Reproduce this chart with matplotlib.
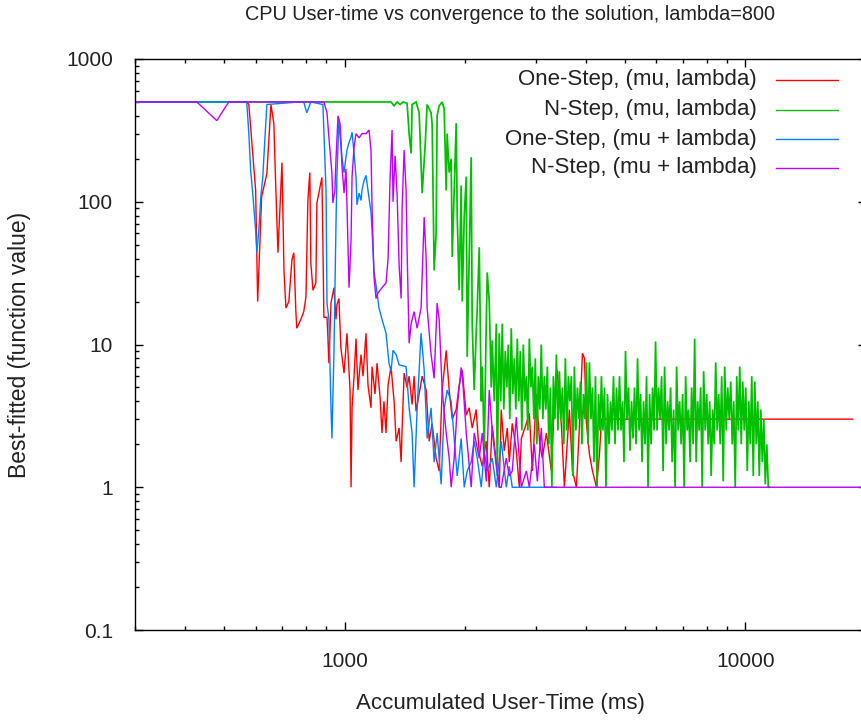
import matplotlib
matplotlib.use('Agg')
import matplotlib.pyplot as plt
from matplotlib.lines import Line2D
from matplotlib.ticker import FixedLocator, FixedFormatter, LogLocator, NullFormatter

plt.rcParams['font.family'] = ['Liberation Sans', 'DejaVu Sans']

title = "CPU User-time vs convergence to the solution, lambda=800"
xlabel = "Accumulated User-Time (ms)"
ylabel = "Best-fitted (function value)"
series_labels = ["One-Step, (mu, lambda)", "N-Step, (mu, lambda)",
                 "One-Step, (mu + lambda)", "N-Step, (mu + lambda)"]
series_colors = ["#ff0000", "#00c000", "#0080ff", "#c000ff"]
series_widths = [1.0, 1.25, 1.0, 1.0]

x_ticks = [1000, 10000]
x_tick_labels = ["1000", "10000"]
y_ticks = [0.1, 1, 10, 100, 1000]
y_tick_labels = ["0.1", "1", "10", "100", "1000"]

red_x = [300, 570, 577, 600, 607, 621, 640, 655, 666, 674,
         682, 693, 698, 706, 714, 726, 739, 747, 756, 760,
         778, 791, 801, 810, 819, 824, 834, 848, 853, 868,
         878, 883, 888, 904, 909, 914, 925, 941, 952, 957,
         968, 979, 997, 1014, 1032, 1038, 1044, 1056, 1068, 1080,
         1099, 1112, 1131, 1144, 1164, 1171, 1191, 1205, 1226, 1240,
         1254, 1269, 1284, 1306, 1329, 1345, 1368, 1384, 1392, 1408,
         1432, 1449, 1474, 1491, 1508, 1535, 1562, 1598, 1626, 1654,
         1692, 1722, 1752, 1793, 1824, 1856, 1899, 1932, 1966, 2012,
         2046, 2082, 2130, 2168, 2206, 2257, 2296, 2336, 2391, 2432,
         2460, 2503, 2547, 2576, 2621, 2682, 2729, 2761, 2842, 2891,
         2942, 3010, 3069, 3115, 3188, 3281, 3338, 3396, 3475, 3536,
         3639, 3703, 3789, 3855, 3922, 3968, 4013, 4083, 4155, 4252,
         4325, 4375, 18540]
red_y = [500, 500, 480, 120, 20, 108, 158, 480, 355, 120,
         44, 120, 188, 33, 18, 20, 39, 44, 17, 13,
         15, 17, 21.5, 102, 160, 37, 24, 27, 98, 126,
         148, 51, 15.5, 15.5, 11, 7.4, 19.5, 25, 15, 19,
         21, 9.5, 6.3, 12, 4.8, 1.0, 3.6, 6, 11, 4.8,
         8.5, 6, 12, 5.2, 3.6, 7, 4.5, 7.4, 4.3, 2.4,
         4, 2.4, 5.2, 7, 4, 2.1, 2.6, 1.5, 2.6, 6.3,
         5, 6, 3.8, 6, 3.4, 4.5, 6, 4.8, 2.1, 2.8,
         1.6, 1.3, 4.8, 9.1, 4.8, 3, 3.5, 5.2, 6.6, 3.2,
         3.6, 2.6, 3.5, 1.7, 1.4, 2.1, 1.0, 2.7, 1.5, 1.0,
         3.5, 1.8, 2.6, 1.5, 2.8, 1.8, 1.0, 2.2, 2.8, 3.3,
         1.3, 4.5, 2.0, 1.6, 2.4, 1.3, 4, 6.6, 2.7, 1.0,
         3.5, 1.3, 1.0, 2.7, 8.7, 8, 2.8, 1.7, 1.3, 1.0,
         1.7, 3.0, 3.0]

green_x = [300, 1306, 1329, 1352, 1376, 1400, 1432, 1449, 1466, 1474,
           1508, 1535, 1562, 1589, 1607, 1644, 1654, 1673, 1692, 1702,
           1722, 1752, 1772, 1793, 1803, 1824, 1845, 1856, 1877, 1899,
           1910, 1932, 1954, 1966, 1989, 2012, 2023, 2046, 2070, 2082,
           2106, 2130, 2143, 2168, 2193, 2206, 2231, 2257, 2270, 2296,
           2323, 2336, 2363, 2391, 2404,
           2432, 2453, 2475, 2496, 2518, 2540, 2562, 2584, 2606, 2629,
           2652, 2675, 2698, 2721, 2745, 2769, 2793, 2817, 2842, 2866,
           2891, 2916, 2942, 2967, 2992, 3018, 3044, 3070, 3097, 3124,
           3151, 3178, 3206, 3234, 3262, 3290, 3319, 3348, 3377, 3406,
           3436, 3465, 3495, 3525, 3556, 3587, 3618, 3649, 3681, 3713,
           3745, 3778, 3811, 3844, 3877, 3911, 3945, 3979, 4013, 4048,
           4083, 4119, 4155, 4191, 4227, 4264, 4301, 4338, 4375, 4413,
           4452, 4490, 4529, 4568, 4608, 4648, 4688, 4729, 4770, 4811,
           4853, 4895, 4938, 4980, 5023, 5067, 5111, 5155, 5200, 5245,
           5291, 5337, 5383, 5430, 5477, 5524, 5572, 5620, 5669, 5718,
           5768, 5818, 5869, 5919, 5970, 6022, 6075, 6127, 6180, 6234,
           6288, 6342, 6397, 6453, 6509, 6565, 6622, 6680, 6738, 6796,
           6855, 6915, 6975, 7035, 7096, 7158, 7220, 7282, 7345, 7409,
           7474, 7538, 7603, 7669, 7736, 7803, 7870, 7939, 8008, 8077,
           8147, 8218, 8289, 8361, 8433, 8506, 8580, 8655, 8730, 8806,
           8882, 8959, 9036, 9115, 9194, 9274, 9354, 9435, 9517, 9600,
           9683, 9767, 9851, 9937, 10023, 10110, 10198, 10286, 10375, 10465,
           10556, 10648, 10740, 10833, 10927, 11022, 11117, 11214, 11311, 11410,
           11508]
green_y = [500, 500, 470, 500, 480, 500, 490, 300, 218, 480,
           500, 420, 115, 250, 480, 420, 350, 33, 60, 400,
           470, 500, 450, 120, 300, 160, 200, 41, 120, 355,
           80, 24, 130, 20, 80, 150, 8.2, 40, 205, 14,
           4.8, 12, 18, 48, 4, 7, 1.8, 14, 32, 20,
           5, 10.7, 4, 14, 1.2,
           12, 4, 14, 3.5, 9, 5, 10, 3, 13, 4.5,
           8, 3.5, 11, 4, 9, 2.5, 10, 4, 6, 2.5,
           11, 5, 7, 3, 8, 2, 6, 3.5, 10, 3,
           6, 3.5, 7, 2, 5, 1, 6, 3, 8.5, 2.5,
           6.5, 3, 5, 2, 8, 2.5, 6, 4, 6, 1.2,
           7, 2.5, 5, 3, 5.5, 2, 4.5, 3, 7.5, 2,
           7.5, 3, 5, 1.5, 6, 1, 4.5, 2.5, 6, 2.5,
           5, 1, 4.5, 2, 4, 2.5, 6, 2, 5, 2.5,
           6, 2.5, 4, 1.5, 9, 3, 5, 1.8, 4, 2.2,
           5, 2, 8, 2.5, 4.5, 1.5, 4, 2, 6, 1,
           4.5, 2, 5, 2.5, 10.5, 2.5, 5, 3, 6, 1.3,
           7, 2, 4, 2.5, 5, 1.5, 3.5, 1, 7, 2.5,
           4, 2, 4.5, 1, 6, 2.5, 3.5, 1.5, 5, 2,
           11, 1.5, 4, 2.5, 5, 1, 6.5, 2.5, 4.5, 2,
           4, 1.2, 3.5, 2, 7.5, 2.5, 4.5, 2, 6, 1.1,
           7, 2.5, 5, 3, 5.5, 2, 4, 1, 6, 2.5,
           7, 2, 5.5, 2.5, 5, 1.3, 4, 2, 6, 1.2,
           5.5, 2, 4, 1.2, 3.5, 1.5, 3, 1.05, 2, 1,
           1]

blue_x = [300, 570, 577, 583, 590, 600, 604, 611, 618, 625,
          632, 640, 769, 791, 805, 824, 883, 899, 904, 914,
          925, 930, 941, 952, 957, 968, 979, 985, 997, 1008,
          1014, 1026, 1038, 1044, 1056, 1068, 1074, 1087, 1099, 1105,
          1118, 1131, 1144, 1164, 1171, 1184, 1198, 1219, 1240, 1269,
          1291, 1306, 1321, 1345, 1368, 1424, 1449, 1474, 1491, 1517,
          1552, 1580, 1607, 1644, 1673, 1702, 1742, 1772, 1803, 1845,
          1877, 1910, 1954, 1989, 2023, 2070, 2106, 2143, 2193, 2231,
          2270, 2336, 2391, 2460, 2532, 2576, 2621, 3367]
blue_y = [500, 500, 300, 167, 115, 63, 44, 63, 108, 148,
          260, 480, 500, 500, 420, 500, 480, 120, 19.5, 15,
          3.6, 2.2, 9, 71, 150, 372, 250, 205, 160, 205,
          230, 260, 285, 307, 220, 148, 95, 115, 102, 120,
          140, 153, 120, 85, 63, 33, 26, 18, 15, 12,
          7.4, 6.5, 9.1, 8.5, 7.2, 7.0, 3.6, 2.4, 1.0, 3.5,
          12, 6.6, 2.2, 3.6, 1.5, 2.4, 1.05, 3.5, 4.8, 4,
          2.2, 1.2, 2.2, 1.0, 1.3, 1.5, 2.1, 1.6, 1.0, 1.8,
          1.3, 1.6, 1.0, 2.1, 1.0, 1.4, 1.0, 1.0]

purple_x = [300, 428, 480, 514, 888, 904, 914, 930, 935, 946,
            952, 963, 974, 979, 985, 997, 1008, 1014, 1026, 1038,
            1044, 1056, 1068, 1087, 1105, 1131, 1151, 1164, 1171, 1184,
            1198, 1212, 1240, 1269, 1284, 1299, 1314, 1321, 1337, 1352,
            1368, 1384, 1392, 1408, 1424, 1432, 1449, 1466, 1491, 1517,
            1552, 1580, 1598, 1607, 1644, 1673, 1702, 1722, 1752, 1793,
            1824, 1845, 1877, 1910, 1954, 1966, 2012, 2070, 2106, 2168,
            2206, 2257, 2296, 2336, 2391, 2432, 2460, 2532, 2576, 2621,
            2682, 2761, 2842, 2891, 2975, 3027, 3097, 3151, 20000]
purple_y = [500, 500, 370, 500, 500, 420, 282, 158, 98, 120,
            200, 400, 355, 280, 180, 115, 170, 95, 25, 54,
            150, 240, 300, 280, 300, 300, 318, 230, 92, 30,
            21, 23, 25, 27, 40, 148, 318, 100, 210, 115,
            36, 21, 92, 230, 120, 47, 10.2, 14, 17, 13,
            18, 78, 40, 18, 8.5, 5.8, 19.5, 15, 4.8, 2.4,
            1.6, 1.0, 1.6, 3.6, 6.9, 6.3, 2.4, 1.0, 2.4, 1.6,
            2.4, 1.1, 4.8, 2.5, 1.4, 1.0, 1.0, 1.6, 1.2, 1.3,
            3.1, 1.0, 1.3, 1.0, 2.0, 1.1, 2.6, 1.0, 1.0]

W, H = 861, 722
fig = plt.figure(figsize=(W / 100, H / 100), dpi=100)
ax = fig.add_axes([135 / W, (H - 630) / H, 731 / W, 571 / H])
ax.set_xscale('log')
ax.set_yscale('log')

all_x = [red_x, green_x, blue_x, purple_x]
all_y = [red_y, green_y, blue_y, purple_y]
for xs, ys, c, lw in zip(all_x, all_y, series_colors, series_widths):
    ax.plot(xs, ys, color=c, lw=lw, solid_joinstyle='miter')

ax.set_xlim(300, 20000)
ax.set_ylim(0.1, 1000)

ax.xaxis.set_major_locator(FixedLocator(x_ticks))
ax.xaxis.set_major_formatter(FixedFormatter(x_tick_labels))
ax.xaxis.set_minor_locator(LogLocator(base=10, subs=range(2, 10)))
ax.xaxis.set_minor_formatter(NullFormatter())
ax.yaxis.set_major_locator(FixedLocator(y_ticks))
ax.yaxis.set_major_formatter(FixedFormatter(y_tick_labels))
ax.yaxis.set_minor_locator(LogLocator(base=10, subs=range(2, 10)))
ax.yaxis.set_minor_formatter(NullFormatter())

ax.tick_params(which='both', direction='in', top=True, right=True,
               width=1.0, color='black', labelsize=15, labelcolor='#222222')
ax.tick_params(which='major', length=5.5)
ax.tick_params(which='minor', length=2.8)
ax.tick_params(axis='x', which='major', pad=16)
ax.tick_params(axis='y', which='major', pad=16)
for s in ax.spines.values():
    s.set_linewidth(1.0)
    s.set_color('black')

ax.set_xlabel(xlabel, fontsize=16, color='#222222')
ax.xaxis.set_label_coords(0.5, -(703 - 630) / 571)
ax.xaxis.label.set_va('center')
ax.set_ylabel(ylabel, fontsize=16.5, color='#222222')
ax.yaxis.set_label_coords((20 - 135) / 731, 0.5)
ax.yaxis.label.set_va('center')

fig.text(510 / W, 1 - 14 / H, title, ha='center', va='center', fontsize=14.3,
         color='#222222')

legend_rows = [80, 109.5, 139, 168]
for lab, c, yp in zip(series_labels, series_colors, legend_rows):
    yf = 1 - yp / H
    fig.text(757 / W, yf, lab, ha='right', va='center', fontsize=16,
             color='#222222')
    fig.add_artist(Line2D([776 / W, 838 / W], [yf, yf], color=c, lw=1.0))

fig.savefig('out.png', dpi=100)
